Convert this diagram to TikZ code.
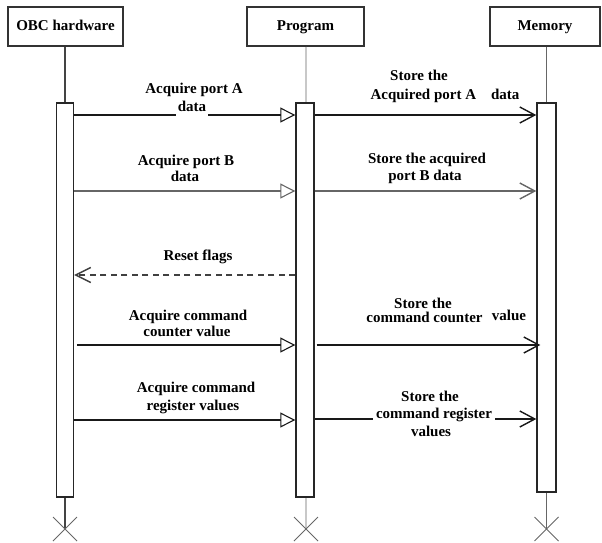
\documentclass[tikz,border=0pt]{standalone}
\usepackage{fontspec}
\setmainfont{Liberation Serif}
\usetikzlibrary{arrows.meta,calc}
\definecolor{boxline}{HTML}{333333}
\definecolor{lifeA}{HTML}{444444}
\definecolor{lifeB}{HTML}{C8C8C8}
\definecolor{lifeC}{HTML}{666666}
\definecolor{msggrey}{HTML}{666666}
\definecolor{crossgrey}{HTML}{666666}
\tikzset{
  head/.style={draw=boxline, line width=1.3pt, fill=white, minimum height=39pt,
    inner sep=0pt, text height=10.5pt, text depth=3pt,
    font=\fontsize{15}{18}\selectfont\bfseries},
  actbar/.style={draw=black!85, line width=1.4pt, fill=white, inner sep=0pt},
  lifeline/.style={line width=1.1pt},
  msg/.style={line width=1.8pt, draw=black!90},
  call/.style={-{Triangle[open, length=15pt, width=15pt, line width=1.1pt]}},
  store/.style={-{Straight Barb[length=15pt, width=16pt, line width=1.4pt]}},
  reply/.style={dashed, dash pattern=on 6pt off 4.5pt, draw=black!75,
    -{Straight Barb[length=15pt, width=15pt, line width=1.4pt]}},
  lbl/.style={font=\fontsize{15}{18}\selectfont\bfseries, inner sep=1.5pt,
    text height=10.5pt, text depth=3pt},
  gapfill/.style={fill=white},
  endmark/.style={draw=crossgrey, line width=1pt},
}
\begin{document}
\begin{tikzpicture}[x=1pt, y=-1pt]
\useasboundingbox (0,0) rectangle (602,543);

% participant heads
\node[head, minimum width=115pt] (obc)  at (65.5,26.5) {OBC hardware};
\node[head, minimum width=117pt] (prog) at (305.5,26.5) {Program};
\node[head, minimum width=110pt] (mem)  at (545,26.5) {Memory};

% end-of-life points
\coordinate (xobc)  at (65,529);
\coordinate (xprog) at (306,529);
\coordinate (xmem)  at (546.5,529);

% lifelines
\draw[lifeline, draw=lifeA] (xobc |- obc.south) -- (xobc);
\draw[lifeline, draw=lifeB, line width=1.4pt] (xprog |- prog.south) -- (xprog);
\draw[lifeline, draw=lifeC] (xmem |- mem.south) -- (xmem);

% activation bars
\node[actbar, minimum width=17pt, minimum height=394pt] (obcbar)  at (65,300) {};
\node[actbar, minimum width=18pt, minimum height=394pt] (progbar) at (305,300) {};
\node[actbar, minimum width=19pt, minimum height=389pt] (membar)  at (546.5,297.5) {};

% destruction marks
\foreach \c in {xobc, xprog, xmem} {
  \draw[endmark] ($(\c)+(-12,-12)$) -- ($(\c)+(12,12)$);
  \draw[endmark] ($(\c)+(-12,12)$) -- ($(\c)+(12,-12)$);
}

% message levels
\coordinate (m1) at (0,115);
\coordinate (m2) at (0,115);
\coordinate (m3) at (0,191);
\coordinate (m4) at (0,191);
\coordinate (m5) at (0,275);
\coordinate (m6) at (0,345);
\coordinate (m7) at (0,345);
\coordinate (m8) at (0,420);
\coordinate (m9) at (0,419);

% messages
\draw[msg, call] (obcbar.east |- m1) -- (progbar.west |- m1);
\draw[msg, store] (progbar.east |- m2) -- (membar.west |- m2);
\draw[msg, draw=msggrey, call] (obcbar.east |- m3) -- (progbar.west |- m3);
\draw[msg, draw=msggrey, store] (progbar.east |- m4) -- (membar.west |- m4);
\draw[msg, reply] (progbar.west |- m5) -- (obcbar.east |- m5);
\draw[msg, call] ([xshift=3pt]obcbar.east |- m6) -- (progbar.west |- m6);
\draw[msg, store] ([xshift=2pt]progbar.east |- m7) -- ([xshift=4pt]membar.west |- m7);
\draw[msg, call] (obcbar.east |- m8) -- (progbar.west |- m8);
\draw[msg, store] (progbar.east |- m9) -- (membar.west |- m9);

% message texts
\node[lbl] (t1a) at (194,90) {Acquire port A};
\node[lbl, gapfill] (t1b) at (192,108) {data};
\node[lbl] (t2a) at (419,77) {Store the};
\node[lbl] (t2b) at (445,96) {Acquired port A\quad data};
\node[lbl] (t3a) at (186,162) {Acquire port B};
\node[lbl] (t3b) at (185,178) {data};
\node[lbl] (t4a) at (427,160) {Store the acquired};
\node[lbl] (t4b) at (425,177) {port B data};
\node[lbl] (t5)  at (198,257) {Reset flags};
\node[lbl] (t6a) at (188,317) {Acquire command};
\node[lbl] (t6b) at (187,333) {counter value};
\node[lbl] (t7a) at (423,305) {Store the};
\node[lbl] (t7b) at (424.5,319) {command counter};
\node[lbl] (t7c) at (509,317) {value};
\node[lbl] (t8a) at (196,389) {Acquire command};
\node[lbl] (t8b) at (193,407) {register values};
\node[lbl] (t9a) at (430,398) {Store the};
\node[lbl, gapfill, inner xsep=3pt] (t9b) at (434,415) {command register};
\node[lbl] (t9c) at (431,433) {values};
\end{tikzpicture}
\end{document}
